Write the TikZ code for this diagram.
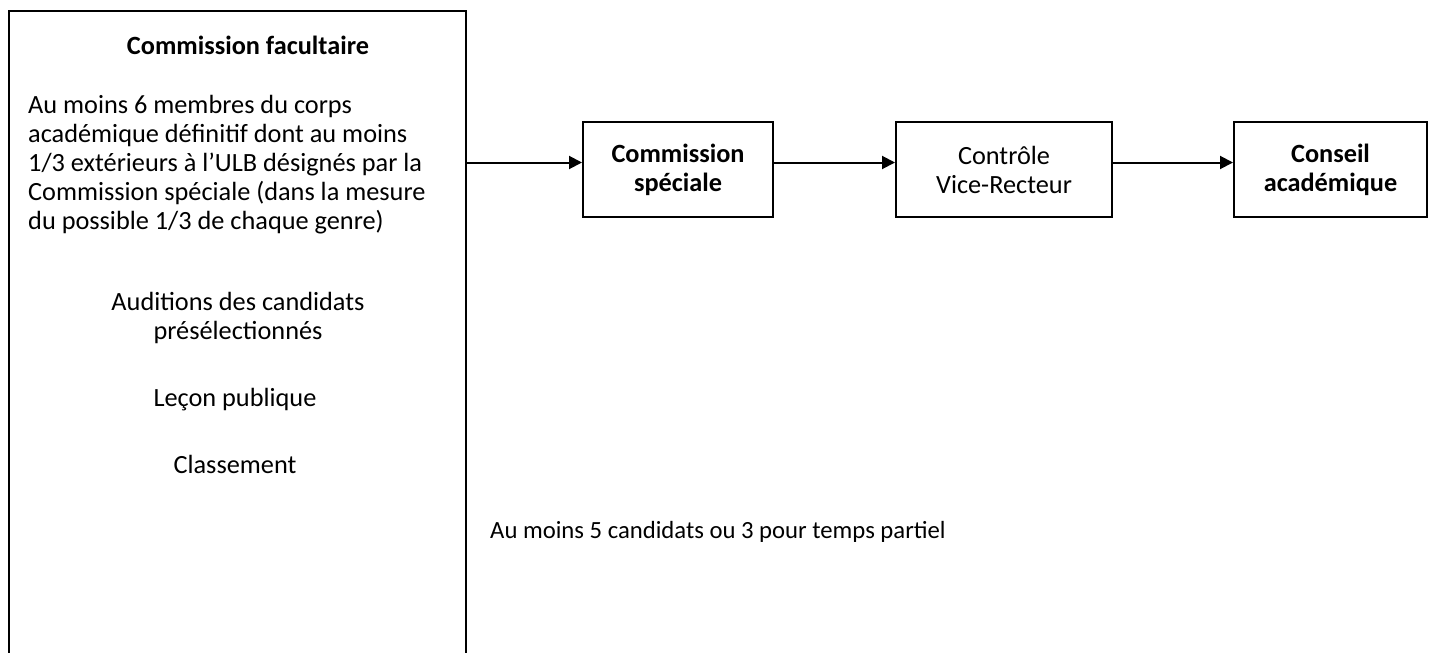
\documentclass[tikz,border=0pt]{standalone}
\usepackage{fontspec}
\setmainfont{Carlito}
\usetikzlibrary{positioning,calc,arrows.meta}

\begin{document}
\begin{tikzpicture}[x=1pt,y=1pt]
    \tikzstyle{every node}=[inner sep=0,font=\fontsize{26.3}{29}\selectfont]
    \tikzstyle{boldtext}=[font=\fontsize{26.3}{29}\selectfont\bfseries]
    \tikzstyle{stepbox}=[draw,line width=2,rectangle,minimum height=95,align=center]
    \tikzstyle{note}=[draw=none,anchor=base west,align=left]
    \tikzstyle{flow}=[line width=2,-{Triangle[length=13,width=13]}]
    {
        \useasboundingbox (0,0) rectangle (1430,-653);

        % faculty commission, runs past the bottom of the page
        \node[draw,line width=2,minimum width=457,minimum height=700,anchor=north west] (fac) at (8,-10) {};
        \node[boldtext,anchor=base] (factitle) at (248,-54) {Commission facultaire};
        % base anchor sits on the last line
        \node[note] (facmembers) at (28,-229) {Au moins 6 membres du corps\\
            académique définitif dont au moins\\
            1/3 extérieurs à l’ULB désignés par la\\
            Commission spéciale (dans la mesure\\
            du possible 1/3 de chaque genre)};
        \node[anchor=base,align=center] (facaudit) at (238,-339) {Auditions des candidats\\ présélectionnés};
        \node[anchor=base] (faclesson) at (235,-406) {Leçon publique};
        \node[anchor=base] (facrank) at (235,-473) {Classement};

        % steps
        \node[stepbox,boldtext,minimum width=190] (cs) at (678,-169.5) {Commission\\ spéciale};
        \node[stepbox,minimum width=216,right=121 of cs] (cvr) {Contrôle\\ Vice-Recteur};
        \node[stepbox,boldtext,minimum width=193,right=120 of cvr] (ca) {Conseil\\ académique};

        \node[note,font=\fontsize{24.7}{29}\selectfont] (quota) at (490,-538) {Au moins 5 candidats ou 3 pour temps partiel};

        \draw[flow] ([yshift=7]cs.west -| fac.east) -- ([yshift=7]cs.west);
        \draw[flow] ([yshift=7]cs.east) -- ([yshift=7]cvr.west);
        \draw[flow] ([yshift=7]cvr.east) -- ([yshift=7]ca.west);
    }
\end{tikzpicture}
\end{document}
